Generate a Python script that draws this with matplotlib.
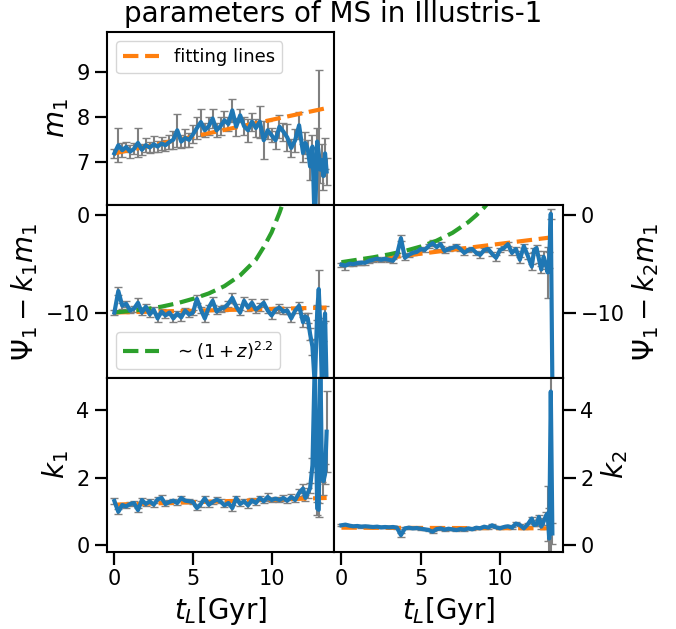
import numpy as np
import matplotlib
matplotlib.use("Agg")
import matplotlib.pyplot as plt

# lookback time grid [Gyr]
t_L = [0.0, 0.25, 0.5, 0.75, 1.0, 1.25, 1.5, 1.75, 2.0, 2.25, 2.5, 2.75, 3.0, 3.25, 3.5, 3.75,
       4.0, 4.25, 4.5, 4.75, 5.0, 5.25, 5.5, 5.75, 6.0, 6.25, 6.5, 6.75, 7.0, 7.25, 7.5, 7.75,
       8.0, 8.25, 8.5, 8.75, 9.0, 9.25, 9.5, 9.75, 10.0, 10.25, 10.5, 10.75, 11.0, 11.25, 11.5, 11.75,
       12.0, 12.15, 12.3, 12.45, 12.6, 12.75, 12.9, 13.0, 13.1, 13.2, 13.3, 13.4, 13.5]

m1 = [7.20, 7.38, 7.27, 7.34, 7.24, 7.30, 7.43, 7.28, 7.38, 7.33, 7.40, 7.35, 7.42, 7.38, 7.45, 7.50,
      7.71, 7.46, 7.54, 7.50, 7.62, 7.76, 7.89, 7.71, 7.80, 7.97, 7.71, 7.80, 7.93, 7.85, 8.15, 7.79,
      8.04, 7.80, 7.71, 7.90, 7.76, 7.90, 7.49, 7.71, 7.60, 7.49, 7.79, 7.68, 7.55, 7.32, 7.49, 7.82,
      7.21, 7.43, 7.30, 6.91, 7.35, 5.50, 7.46, 7.20, 6.84, 7.05, 6.70, 7.20, 6.80]
m1_err = [0.10, 0.38, 0.15, 0.12, 0.15, 0.12, 0.32, 0.12, 0.15, 0.12, 0.18, 0.12, 0.15, 0.12, 0.15, 0.20,
          0.37, 0.15, 0.20, 0.15, 0.20, 0.25, 0.30, 0.15, 0.20, 0.20, 0.15, 0.20, 0.20, 0.15, 0.25, 0.20,
          0.15, 0.20, 0.25, 0.20, 0.20, 0.35, 0.42, 0.20, 0.15, 0.20, 0.25, 0.20, 0.30, 0.20, 0.25, 0.30,
          0.20, 0.25, 0.20, 0.30, 0.25, 0.30, 0.30, 1.85, 0.30, 0.35, 0.30, 0.35, 0.30]

psi1 = [-10.0, -7.8, -9.3, -9.1, -9.8, -9.6, -9.0, -10.0, -9.4, -10.2, -9.7, -10.6, -9.9, -10.3, -10.0, -10.6,
        -10.1, -10.5, -9.8, -10.2, -10.0, -8.6, -9.7, -10.6, -9.5, -8.8, -9.9, -9.6, -9.5, -9.1, -8.5, -9.4,
        -10.0, -8.8, -9.5, -9.0, -9.7, -9.4, -9.0, -9.8, -10.3, -9.7, -9.5, -9.9, -9.8, -10.6, -9.8, -9.3,
        -11.0, -10.4, -10.6, -12.2, -13.5, -17.5, -10.0, -7.6, -11.5, -17.5, -12.0, -10.1, -17.5]
psi1_err = [0.3, 0.4, 0.3, 0.3, 0.3, 0.3, 0.5, 0.3, 0.3, 0.3, 0.3, 0.4, 0.3, 0.3, 0.3, 0.4,
            0.3, 0.4, 0.3, 0.3, 0.3, 0.4, 0.3, 0.4, 0.3, 0.4, 0.3, 0.3, 0.3, 0.3, 0.5, 0.3,
            0.3, 0.4, 0.3, 0.4, 0.3, 0.4, 0.4, 0.3, 0.4, 0.3, 0.4, 0.3, 0.4, 0.4, 0.3, 0.4,
            0.5, 0.4, 0.5, 0.6, 0.8, 0.8, 0.8, 2.0, 0.9, 0.9, 0.9, 0.8, 0.8]

psi2 = [-5.1, -5.2, -5.0, -5.05, -4.95, -4.9, -4.9, -4.7, -4.6, -4.5, -4.6, -4.5, -4.6, -4.7, -4.1, -2.4,
        -4.4, -4.1, -3.9, -3.8, -3.5, -3.6, -3.2, -2.9, -3.3, -3.0, -3.7, -3.5, -3.4, -3.2, -3.5, -3.9,
        -3.6, -3.5, -3.9, -4.1, -3.6, -3.5, -4.0, -4.4, -3.6, -3.4, -3.0, -3.9, -3.5, -4.6, -3.2, -4.2,
        -5.3, -3.6, -3.4, -4.5, -5.6, -4.3, -5.1, -5.9, -4.6, 0.1, -17.5, np.nan, np.nan]
psi2_err = [0.2, 0.4, 0.2, 0.2, 0.2, 0.2, 0.2, 0.2, 0.2, 0.2, 0.2, 0.2, 0.2, 0.2, 0.2, 0.3,
            0.2, 0.2, 0.2, 0.2, 0.2, 0.2, 0.2, 0.3, 0.2, 0.2, 0.2, 0.2, 0.2, 0.2, 0.2, 0.2,
            0.2, 0.2, 0.2, 0.3, 0.2, 0.2, 0.2, 0.3, 0.2, 0.2, 0.2, 0.2, 0.2, 0.3, 0.2, 0.3,
            0.3, 0.2, 0.3, 0.4, 0.4, 0.6, 0.4, 2.65, 0.8, 0.5, 0.8, np.nan, np.nan]

k1 = [1.31, 0.99, 1.19, 1.15, 1.22, 1.25, 1.04, 1.34, 1.22, 1.30, 1.20, 1.36, 1.40, 1.22, 1.28, 1.32,
      1.25, 1.40, 1.32, 1.30, 1.28, 1.10, 1.22, 1.39, 1.20, 1.28, 1.35, 1.30, 1.18, 1.25, 1.10, 1.40,
      1.22, 1.30, 1.18, 1.33, 1.25, 1.40, 1.30, 1.43, 1.34, 1.38, 1.34, 1.40, 1.32, 1.43, 1.34, 1.55,
      1.68, 1.40, 1.55, 1.69, 2.37, 5.50, 1.09, 1.05, 5.50, 2.17, 1.90, 2.10, 3.36]
k1_err = [0.08, 0.08, 0.06, 0.06, 0.06, 0.06, 0.06, 0.06, 0.06, 0.06, 0.06, 0.06, 0.08, 0.06, 0.06, 0.06,
          0.06, 0.06, 0.06, 0.06, 0.06, 0.06, 0.08, 0.06, 0.06, 0.06, 0.08, 0.06, 0.06, 0.06, 0.08, 0.06,
          0.06, 0.06, 0.08, 0.06, 0.06, 0.06, 0.06, 0.12, 0.06, 0.06, 0.06, 0.08, 0.06, 0.08, 0.06, 0.10,
          0.12, 0.10, 0.15, 0.15, 0.20, 0.30, 0.20, 0.20, 0.40, 0.30, 0.40, 0.30, 1.20]

k2 = [0.59, 0.61, 0.58, 0.56, 0.57, 0.55, 0.56, 0.55, 0.54, 0.55, 0.53, 0.54, 0.53, 0.54, 0.52, 0.30,
      0.50, 0.52, 0.50, 0.51, 0.49, 0.47, 0.45, 0.40, 0.48, 0.50, 0.46, 0.49, 0.47, 0.45, 0.48, 0.46,
      0.50, 0.47, 0.52, 0.50, 0.55, 0.52, 0.59, 0.53, 0.50, 0.54, 0.56, 0.52, 0.64, 0.60, 0.50, 0.62,
      0.79, 0.60, 0.62, 0.84, 0.55, 0.70, 0.88, 0.94, 0.20, 4.55, 0.35, np.nan, np.nan]
k2_err = [0.03, 0.03, 0.03, 0.03, 0.03, 0.03, 0.03, 0.03, 0.03, 0.03, 0.03, 0.03, 0.03, 0.03, 0.03, 0.05,
          0.03, 0.03, 0.03, 0.03, 0.03, 0.03, 0.04, 0.03, 0.03, 0.03, 0.03, 0.03, 0.03, 0.03, 0.03, 0.03,
          0.03, 0.03, 0.03, 0.03, 0.03, 0.03, 0.04, 0.03, 0.03, 0.03, 0.03, 0.03, 0.04, 0.03, 0.03, 0.04,
          0.05, 0.04, 0.05, 0.06, 0.06, 0.10, 0.10, 0.80, 0.90, 5.00, 0.30, np.nan, np.nan]

# fitting lines (end points)
fit_t = [0.0, 13.5]
m1_fit = [7.2, 8.2]
psi1_fit = [-10.0, -9.5]
psi2_fit = [-5.0, -2.3]
k1_fit = [1.2, 1.4]
k2_fit = [0.52, 0.50]

# ~(1+z)^2.2 curves
z_t1 = [0, 1, 2, 3, 4, 5, 6, 7, 8, 9, 9.5, 10, 10.5, 11]
z_psi1 = [-10.0, -9.85, -9.65, -9.4, -9.05, -8.6, -8.05, -7.3, -6.2, -4.6, -3.3, -1.8, 0.2, 2.5]
z_t2 = [0, 1, 2, 3, 4, 5, 6, 7, 8, 8.5, 9, 9.5]
z_psi2 = [-4.85, -4.6, -4.35, -4.05, -3.7, -3.25, -2.65, -1.85, -0.75, -0.05, 0.75, 1.7]

BLUE = "#1f77b4"
ORANGE = "#ff7f0e"
GREEN = "#2ca02c"

plt.rcParams.update({
    "axes.linewidth": 1.5,
    "xtick.major.size": 9,
    "ytick.major.size": 9,
    "xtick.major.width": 1.6,
    "ytick.major.width": 1.6,
    "xtick.labelsize": 15,
    "ytick.labelsize": 15,
    "axes.labelsize": 20,
})

fig = plt.figure(figsize=(6.76, 6.29), dpi=100)
W, H = 676.0, 629.0
xl, xr, xe = 107, 334, 563
rows = [(32, 205), (205, 378), (378, 552)]


def make_ax(x0, x1, row):
    y0, y1 = row
    return fig.add_axes([x0 / W, 1 - y1 / H, (x1 - x0) / W, (y1 - y0) / H])


ax_m1 = make_ax(xl, xr, rows[0])
ax_p1 = make_ax(xl, xr, rows[1])
ax_k1 = make_ax(xl, xr, rows[2])
ax_p2 = make_ax(xr, xe, rows[1])
ax_k2 = make_ax(xr, xe, rows[2])

eb = dict(color=BLUE, ecolor="gray", lw=3, elinewidth=1.5, capsize=3)
fl = dict(color=ORANGE, lw=3, ls="--")

ax_m1.errorbar(t_L, m1, yerr=m1_err, **eb)
ax_m1.plot(fit_t, m1_fit, label="fitting lines", **fl)
ax_m1.set_ylim(6.06, 9.88)
ax_m1.set_yticks([7, 8, 9])
ax_m1.set_ylabel(r"$m_1$")
ax_m1.legend(loc="upper left", fontsize=13)

ax_p1.errorbar(t_L, psi1, yerr=psi1_err, **eb)
ax_p1.plot(fit_t, psi1_fit, **fl)
ax_p1.plot(z_t1, z_psi1, color=GREEN, lw=3, ls="--", label=r"$\sim(1+z)^{2.2}$")
ax_p1.set_ylim(-16.7, 1.0)
ax_p1.set_yticks([-10, 0])
ax_p1.set_ylabel(r"$\Psi_1-k_1m_1$")
ax_p1.legend(loc="lower left", fontsize=13)

ax_k1.errorbar(t_L, k1, yerr=k1_err, **eb)
ax_k1.plot(fit_t, k1_fit, **fl)
ax_k1.set_ylim(-0.2, 4.95)
ax_k1.set_yticks([0, 2, 4])
ax_k1.set_ylabel(r"$k_1$")

ax_p2.errorbar(t_L, psi2, yerr=psi2_err, **eb)
ax_p2.plot([0.0, 13.3], psi2_fit, **fl)
ax_p2.plot(z_t2, z_psi2, color=GREEN, lw=3, ls="--")
ax_p2.set_ylim(-16.7, 1.0)
ax_p2.set_yticks([-10, 0])
ax_p2.set_ylabel(r"$\Psi_1-k_2m_1$")

ax_k2.errorbar(t_L, k2, yerr=k2_err, **eb)
ax_k2.plot([0.0, 13.3], k2_fit, **fl)
ax_k2.set_ylim(-0.2, 4.95)
ax_k2.set_yticks([0, 2, 4])
ax_k2.set_ylabel(r"$k_2$")

for ax in [ax_p2, ax_k2]:
    ax.yaxis.tick_right()
    ax.yaxis.set_label_position("right")

for ax in [ax_m1, ax_p1, ax_k1, ax_p2, ax_k2]:
    ax.set_xlim(-0.47, 13.97)
    ax.set_xticks([0, 5, 10])
    for s in ax.spines.values():
        s.set_color("black")

for ax in [ax_m1, ax_p1, ax_p2]:
    ax.tick_params(labelbottom=False)

for ax in [ax_k1, ax_k2]:
    ax.set_xlabel(r"$t_L[\mathrm{Gyr}]$")

fig.suptitle("parameters of MS in Illustris-1", x=0.493, y=1 - 14 / H, va="center", fontsize=20)

fig.savefig("out.png", dpi=100)
